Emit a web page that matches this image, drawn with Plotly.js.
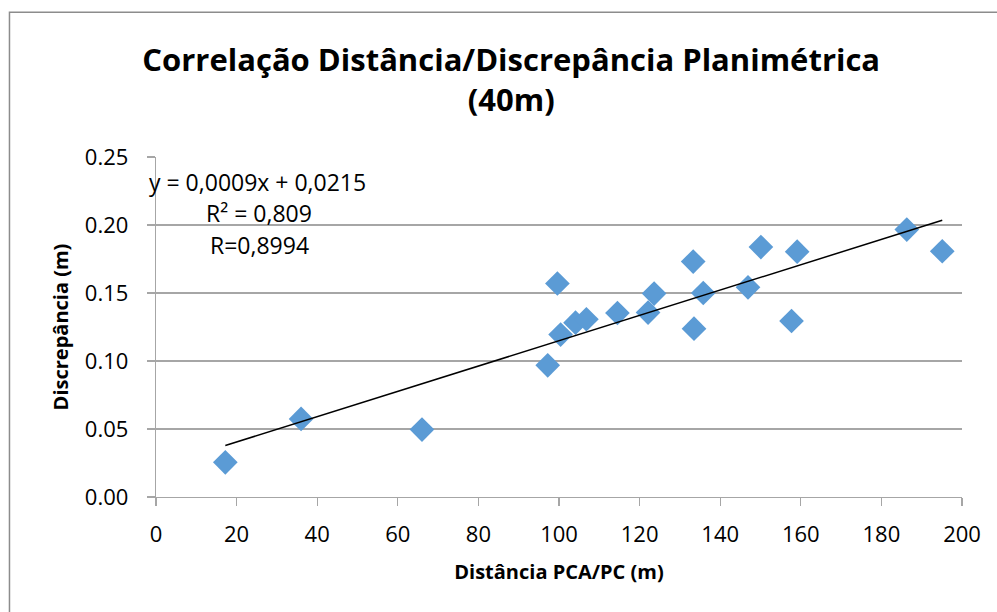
<!DOCTYPE html>
<html>
<head>
<meta charset="utf-8">
<script src="https://cdn.plot.ly/plotly-3.0.1.min.js"></script>
<style>html,body{margin:0;padding:0;background:#fff;}#chart{width:997px;height:612px;}</style>
</head>
<body>
<div id="chart"></div>
<script>
// Data
const distancia = [17.2, 36.0, 66.0, 97.2, 99.6, 100.4, 104.1, 106.8, 114.5, 122.1, 123.6, 133.3, 133.5, 135.8, 146.9, 150.1, 157.7, 159.1, 186.3, 195.1];
const discrepancia = [0.0255, 0.0574, 0.0496, 0.0968, 0.157, 0.1194, 0.1282, 0.1307, 0.1353, 0.1356, 0.1496, 0.1731, 0.1238, 0.150, 0.1542, 0.1838, 0.1294, 0.1804, 0.1966, 0.1807];
const yTickVals = [0, 0.05, 0.10, 0.15, 0.20, 0.25];
const yTickText = ["0.00", "0.05", "0.10", "0.15", "0.20", "0.25"];
const xTickVals = [0, 20, 40, 60, 80, 100, 120, 140, 160, 180, 200];
const equationText = ["y = 0,0009x + 0,0215", "R² = 0,809", "R=0,8994"];
const titleText = "<b>Correlação Distância/Discrepância Planimétrica<br>(40m)</b>";

// linear least-squares trendline computed from the data
const n = distancia.length;
const mx = distancia.reduce((a, b) => a + b, 0) / n;
const my = discrepancia.reduce((a, b) => a + b, 0) / n;
let sxy = 0, sxx = 0;
for (let i = 0; i < n; i++) { sxy += (distancia[i] - mx) * (discrepancia[i] - my); sxx += (distancia[i] - mx) ** 2; }
const slope = sxy / sxx, intercept = my - slope * mx;
const xMin = Math.min(...distancia), xMax = Math.max(...distancia);
const trendX = [xMin, xMax];
const trendY = trendX.map(x => slope * x + intercept);

const FONT = "Open Sans";
const traces = [
  {
    x: distancia, y: discrepancia, type: "scatter", mode: "markers",
    marker: { symbol: "diamond", size: 19, color: "#5b9bd5", line: { width: 0 } },
    hoverinfo: "x+y", showlegend: false
  },
  {
    x: trendX, y: trendY, type: "scatter", mode: "lines",
    line: { color: "#000000", width: 1.5 }, hoverinfo: "skip", showlegend: false
  }
];

const L = 155.6, R = 962, T = 156.7, B = 496.7;
const W = 997, H = 612;
const pw = R - L, ph = B - T;
const px = v => (v - L) / pw;
const py = v => (B - v) / ph;

const layout = {
  width: W, height: H,
  margin: { l: L, r: W - R, t: T, b: H - B, pad: 0 },
  paper_bgcolor: "#ffffff", plot_bgcolor: "#ffffff",
  font: { family: FONT, color: "#000000" },
  title: {
    text: titleText, font: { family: FONT, size: 31, color: "#000000" },
    x: px(511), xanchor: "center", xref: "paper", y: 1 - 71 / H, yanchor: "middle"
  },
  xaxis: {
    range: [0, 200], tickvals: xTickVals, ticktext: xTickVals.map(String),
    showgrid: false, zeroline: false, showline: true, linecolor: "#a6a6a6", linewidth: 1.2,
    ticks: "outside", ticklen: 8, tickcolor: "#a6a6a6", tickwidth: 1.2,
    ticklabelstandoff: 9,
    tickfont: { family: FONT, size: 22, color: "#000000" },
    title: { text: "<b>Distância PCA/PC (m)</b>", font: { family: FONT, size: 20, color: "#000000" }, standoff: 18 },
    fixedrange: true
  },
  yaxis: {
    range: [0, 0.25], tickvals: yTickVals, ticktext: yTickText,
    showgrid: true, gridcolor: "#a6a6a6", gridwidth: 1.2,
    zeroline: false, showline: true, linecolor: "#a6a6a6", linewidth: 1.2,
    ticks: "outside", ticklen: 8, tickcolor: "#a6a6a6", tickwidth: 1.2,
    ticklabelstandoff: 14,
    tickfont: { family: FONT, size: 22, color: "#000000" },
    title: { text: "<b>Discrepância (m)</b>", font: { family: FONT, size: 20, color: "#000000" }, standoff: 10 },
    fixedrange: true
  },
  shapes: [
    { type: "rect", xref: "paper", yref: "paper", x0: px(9), x1: px(1005), y0: py(12), y1: py(620),
      line: { color: "#8c8c8c", width: 1.5 }, fillcolor: "rgba(0,0,0,0)", layer: "below" }
  ],
  annotations: [
    { text: equationText[0], xref: "paper", yref: "paper", x: px(147), y: py(182), xanchor: "left", yanchor: "middle", showarrow: false, font: { family: FONT, size: 23, color: "#000" } },
    { text: equationText[1], xref: "paper", yref: "paper", x: px(204), y: py(213), xanchor: "left", yanchor: "middle", showarrow: false, font: { family: FONT, size: 23, color: "#000" } },
    { text: equationText[2], xref: "paper", yref: "paper", x: px(208), y: py(245), xanchor: "left", yanchor: "middle", showarrow: false, font: { family: FONT, size: 23, color: "#000" } }
  ],
  showlegend: false
};

Plotly.newPlot("chart", traces, layout, { displayModeBar: false, staticPlot: true });
</script>
</body>
</html>
